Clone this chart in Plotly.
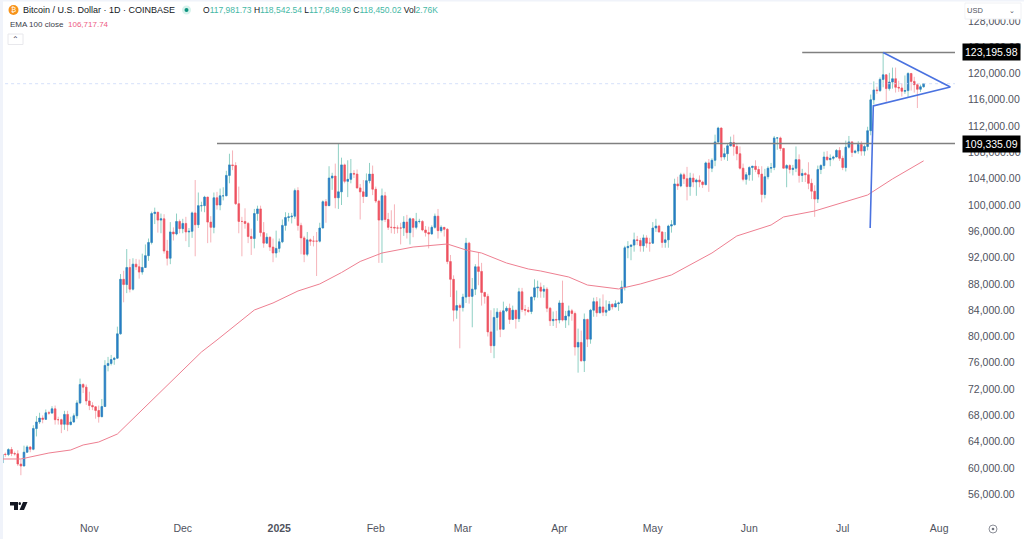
import pandas as pd
import plotly.graph_objects as go

W, H = 1024, 539
ML, MR, MT, MB = 0, 69, 0, 24
FONT = "Liberation Sans"

dates = pd.date_range("2024-10-04", "2025-07-27", freq="D")

opens = [60750, 62100, 62050, 62800, 62200, 62150, 60600, 60300, 62400, 63200, 62850, 66000, 67000, 67600, 67400, 68400, 68350, 69000, 67350, 67350, 66650, 68150, 66600, 67000, 67950, 69900, 72700, 72300,
         70200, 69500, 69300, 68750, 67800, 69350, 75600, 75900, 76500, 76700, 80400, 88700, 87900, 90500, 87200, 91000, 90600, 89800, 90500, 92300, 94300, 98700, 98900, 97700, 97900, 93000, 91900, 95900, 95600, 97500,
         96400, 97200, 95900, 96000, 98800, 97000, 99900, 99900, 101200, 97400, 96600, 101100, 100000, 101400, 101400, 104500, 106100, 106000, 100200, 97500, 97500, 97200, 95200, 94900, 98700, 99400, 95800, 94200, 95100, 93600, 92700,
         93400, 94400, 96900, 98100, 98200, 98300, 102200, 96900, 95000, 92500, 94700, 94500, 94500, 94500, 96500, 100500, 99900, 104100, 104400, 101100, 102000, 106100, 103600, 103900, 104800, 104700, 102600, 102000, 101300, 103700, 104700,
         102400, 100600, 97700, 101400, 97800, 96600, 96600, 96500, 96500, 96500, 97400, 95800, 97900, 96600, 97500, 97500, 96200, 95800, 95600, 96600, 98300, 96100, 96600, 96300, 91400, 88700, 84000, 84700,
         84400, 86000, 94200, 86100, 87200, 90600, 89900, 86700, 86100, 80700, 78600, 82900, 83700, 81100, 83900, 84300, 82600, 84000, 82700, 86800, 84100, 84000, 83800, 86000, 87400, 87500, 86900, 87200, 84300, 82400, 82600,
         82500, 85100, 82500, 83100, 83900, 83500, 78400, 79100, 76300, 82600, 79600, 84000, 85300, 83600, 84500, 83700, 84000, 84900, 84500, 85000, 85100, 87500, 93500, 93700, 93900, 94700, 94600, 93800, 95000, 94200,
         94200, 96500, 96800, 95900, 94300, 94700, 96800, 97000, 103200, 102900, 104600, 104000, 102800, 104100, 103500, 103800, 103500, 103100, 106400, 105600, 106800, 109600, 111700, 107300, 107800, 109000, 109500, 108900, 107800, 105600, 103900,
         104600, 105700, 105900, 105400, 104700, 101600, 104300, 105600, 105700, 110200, 110200, 108600, 105600, 106000, 105400, 105600, 106900, 104500, 104800, 104600, 103300, 102100, 100900, 105400, 106000, 107300, 106900, 107100, 107300, 108300,
         107100, 105700, 108800, 109600, 108000, 108200, 109200, 108200, 108900, 111300, 116000, 117500, 117400, 119100, 119800, 117700, 118700, 119200, 117900, 117800, 117300, 117400, 120000, 118800, 118300, 117600, 117981.73]

highs = [62400, 62350, 63000, 63200, 62500, 62700, 61300, 63400, 63450, 63300, 66500, 67900, 68400, 68000, 68900, 68700, 69400, 69500, 67800, 67500, 68700, 68700, 67800, 68300, 70300, 73600, 72900, 72700,
         71600, 70000, 69400, 69500, 70500, 76400, 76900, 77200, 76900, 81500, 89500, 90000, 93300, 91800, 91900, 91800, 91700, 92600, 94000, 94900, 99000, 99600, 98800, 98700, 98600, 94700, 97400, 96600, 98700, 97800,
         97900, 98200, 96500, 99000, 103800, 101900, 100500, 101400, 101200, 98300, 101900, 102000, 102500, 102700, 105200, 107800, 108300, 106500, 102800, 98200, 99500, 97400, 96400, 99400, 99900, 99900, 97400, 95700, 95200, 94900, 96100,
         94900, 97800, 98900, 98800, 98800, 102500, 102700, 97300, 95300, 95900, 94900, 95300, 95900, 97300, 100700, 100900, 105900, 104900, 106300, 109300, 107200, 106300, 106800, 107000, 105300, 105400, 103200, 103800, 104800, 106400, 106000,
         102800, 100800, 102500, 102000, 98800, 99200, 100100, 96900, 97300, 98300, 98500, 98100, 97200, 98800, 97900, 97700, 96800, 96700, 96900, 98700, 99400, 96900, 96500, 96500, 92400, 89300, 87000, 85000,
         86500, 95000, 94400, 88900, 91000, 92800, 91200, 86800, 86500, 84000, 84300, 84300, 84000, 85300, 84600, 85000, 84700, 84000, 87400, 87400, 84800, 84500, 86000, 88700, 88500, 88200, 87800, 87500, 84500, 83800, 83900,
         85500, 88500, 83900, 84700, 84200, 83800, 81200, 80900, 83500, 82700, 84200, 85900, 86000, 85800, 86400, 85500, 85400, 85000, 85500, 85300, 88500, 93800, 94500, 94000, 95800, 95300, 95000, 95500, 95400, 95000,
         97400, 97900, 97000, 96000, 95900, 97000, 97700, 104000, 104300, 104900, 104900, 105800, 104900, 104800, 104000, 104500, 103700, 106600, 107000, 107100, 110700, 111900, 111800, 108700, 109300, 110400, 110700, 109300, 108900, 106300, 105000,
         105900, 105900, 106800, 105900, 105900, 105500, 105900, 106400, 110500, 110300, 110400, 108700, 106200, 106200, 106100, 108900, 107700, 105500, 105000, 106500, 104000, 103000, 106000, 106200, 108100, 108200, 107700, 107500, 108500, 108800,
         107500, 109800, 110500, 109700, 108400, 109700, 109700, 109200, 111900, 116800, 118800, 118000, 119400, 123195.98, 119900, 120100, 120900, 120900, 118900, 118500, 119700, 120200, 120100, 119500, 118500, 118300, 118542.54]

lows = [60450, 61700, 61800, 61800, 61900, 60300, 58900, 60300, 62500, 62400, 62700, 64800, 66700, 66800, 67300, 68100, 68300, 66600, 66600, 65300, 65800, 65600, 66500, 66900, 67500, 69700, 71400, 69600,
        68800, 68800, 67500, 66900, 67800, 69300, 74700, 75600, 75700, 76700, 80300, 85200, 86600, 86700, 87000, 90100, 88800, 89400, 90800, 91500, 94000, 97100, 95800, 95700, 92600, 90800, 91000, 94600, 95400, 95700,
        95700, 94500, 93600, 95000, 92200, 96500, 99000, 98900, 94200, 94300, 95700, 99300, 99200, 100700, 101400, 103300, 105300, 100000, 95700, 92200, 96400, 94200, 92400, 93400, 97600, 95200, 93500, 94200, 93000, 91300, 92000,
        92800, 94200, 96100, 97500, 97200, 97900, 96100, 92500, 91300, 92200, 93800, 93700, 89200, 94300, 96500, 97300, 100300, 102300, 99500, 99400, 100000, 103300, 101200, 103300, 104100, 102500, 97800, 100300, 101300, 103300, 101500,
        100300, 91200, 91200, 97400, 96200, 95700, 95600, 95700, 94000, 95300, 94900, 94000, 95100, 96300, 97200, 96000, 95200, 93400, 95500, 96400, 94900, 95800, 95200, 91000, 86000, 82300, 82700, 78200,
        83800, 85100, 85000, 81400, 86300, 87800, 84700, 85000, 80000, 77500, 76700, 80900, 79900, 81100, 83700, 81900, 82500, 81200, 82200, 83700, 83200, 83600, 83400, 85500, 85900, 85900, 85900, 83700, 81600, 81600, 81300,
        82000, 82300, 81300, 81700, 82400, 77100, 74500, 76200, 74600, 78400, 78900, 83000, 83000, 83600, 83100, 83100, 84000, 84100, 84500, 83900, 85000, 87000, 91900, 91600, 92900, 93900, 92900, 92900, 93500, 92900,
        94100, 95900, 95800, 93500, 93500, 93500, 95800, 96900, 102300, 102700, 103200, 100700, 101400, 102700, 101400, 102700, 102600, 103000, 102000, 105000, 105900, 109300, 106700, 106900, 106700, 108900, 107500, 106800, 105400, 103600, 103100,
        103700, 103700, 105000, 104200, 100400, 101000, 103900, 104900, 105300, 108400, 108200, 105600, 102700, 104800, 104500, 105000, 103400, 103500, 103500, 102400, 100900, 98200, 100300, 104700, 105500, 106700, 105900, 106800, 107300, 106700,
        105300, 105100, 108600, 107300, 107800, 107800, 107500, 107500, 108300, 110600, 115300, 116900, 117200, 117900, 115700, 117400, 117700, 117100, 117200, 116500, 116900, 116400, 117400, 117100, 114750, 117200, 117849.99]

closes = [62100, 62050, 62800, 62200, 62150, 60600, 60300, 62400, 63200, 62850, 66000, 67000, 67600, 67400, 68400, 68350, 69000, 67350, 67350, 66650, 68150, 66600, 67000, 67950, 69900, 72700, 72300, 70200,
          69500, 69300, 68750, 67800, 69350, 75600, 75900, 76500, 76700, 80400, 88700, 87900, 90500, 87200, 91000, 90600, 89800, 90500, 92300, 94300, 98700, 98900, 97700, 97900, 93000, 91900, 95900, 95600, 97500, 96400,
          97200, 95900, 96000, 98800, 97000, 99900, 99900, 101200, 97400, 96600, 101100, 100000, 101400, 101400, 104500, 106100, 106000, 100200, 97500, 97500, 97200, 95200, 94900, 98700, 99400, 95800, 94200, 95100, 93600, 92700, 93400,
          94400, 96900, 98100, 98200, 98300, 102200, 96900, 95000, 92500, 94700, 94500, 94500, 94500, 96500, 100500, 99900, 104100, 104400, 101100, 102000, 106100, 103600, 103900, 104800, 104700, 102600, 102000, 101300, 103700, 104700, 102400,
          100600, 97700, 101400, 97800, 96600, 96600, 96500, 96500, 96500, 97400, 95800, 97900, 96600, 97500, 97500, 96200, 95800, 95600, 96600, 98300, 96100, 96600, 96300, 91400, 88700, 84000, 84700, 84400,
          86000, 94200, 86100, 87200, 90600, 89900, 86700, 86100, 80700, 78600, 82900, 83700, 81100, 83900, 84300, 82600, 84000, 82700, 86800, 84100, 84000, 83800, 86000, 87400, 87500, 86900, 87200, 84300, 82400, 82600, 82500,
          85100, 82500, 83100, 83900, 83500, 78400, 79100, 76300, 82600, 79600, 84000, 85300, 83600, 84500, 83700, 84000, 84900, 84500, 85000, 85100, 87500, 93500, 93700, 93900, 94700, 94600, 93800, 95000, 94200, 94200,
          96500, 96800, 95900, 94300, 94700, 96800, 97000, 103200, 102900, 104600, 104000, 102800, 104100, 103500, 103800, 103500, 103100, 106400, 105600, 106800, 109600, 111700, 107300, 107800, 109000, 109500, 108900, 107800, 105600, 103900, 104600,
          105700, 105900, 105400, 104700, 101600, 104300, 105600, 105700, 110200, 110200, 108600, 105600, 106000, 105400, 105600, 106900, 104500, 104800, 104600, 103300, 102100, 100900, 105400, 106000, 107300, 106900, 107100, 107300, 108300, 107100,
          105700, 108800, 109600, 108000, 108200, 109200, 108200, 108900, 111300, 116000, 117500, 117400, 119100, 119800, 117700, 118700, 119200, 117900, 117800, 117300, 117400, 120000, 118800, 118300, 117600, 117981.73, 118450.02]

ema_dates = ["2024-10-04", "2024-10-10", "2024-10-19", "2024-10-26", "2024-10-30", "2024-11-04", "2024-11-10", "2024-11-18", "2024-11-25", "2024-11-30",
             "2024-12-07", "2024-12-12", "2024-12-24", "2024-12-30", "2025-01-07", "2025-01-14", "2025-01-21", "2025-01-27", "2025-02-03", "2025-02-13",
             "2025-02-24", "2025-03-02", "2025-03-07", "2025-03-15", "2025-03-22", "2025-03-26", "2025-04-04", "2025-04-10", "2025-04-20", "2025-04-27",
             "2025-05-07", "2025-05-20", "2025-05-28", "2025-06-08", "2025-06-12", "2025-06-22", "2025-07-09", "2025-07-17", "2025-07-27"]
ema_values = [61370, 61370, 62280, 62740, 63500, 63950, 65170, 68820, 72170, 74450,
              77640, 79470, 84030, 85100, 86920, 87990, 89730, 91410, 92700, 93610,
              94070, 93160, 92700, 91180, 90270, 89960, 89050, 87830, 87230, 87990,
              89360, 92700, 95290, 96960, 98180, 99090, 101520, 103960, 106717.74]

resistance = 109335.09
swing_high = 123195.98
last_close = 118450.02
pennant_dates = ["2025-07-09 20:00", "2025-07-10 20:00", "2025-08-04 14:00", "2025-07-14", "2025-08-04 14:00"]
pennant_prices = [96500, 115060, 117950, 123195.98, 117950]

y_ticks = list(range(56000, 132000, 4000))
month_ticks = ["2024-11-01", "2024-12-01", "2025-01-01", "2025-02-01", "2025-03-01", "2025-04-01", "2025-05-01", "2025-06-01", "2025-07-01", "2025-08-01"]
month_labels = ["Nov", "Dec", "<b>2025</b>", "Feb", "Mar", "Apr", "May", "Jun", "Jul", "Aug"]


# decoration placed by pixel, converted to paper coordinates
def px(x):
    return (x - ML) / (W - ML - MR)


def py(y):
    return 1 - (y - MT) / (H - MT - MB)


fig = go.Figure()

# wicks first, bodies on top, so the two can have different colours
fig.add_trace(go.Candlestick(
    x=dates, open=opens, high=highs, low=lows, close=closes,
    increasing=dict(line=dict(color="#8fd0c4", width=1), fillcolor="#8fd0c4"),
    decreasing=dict(line=dict(color="#f6b3b9", width=1), fillcolor="#f6b3b9"),
    whiskerwidth=0, hoverinfo="skip", showlegend=False,
))
fig.add_trace(go.Candlestick(
    x=dates, open=opens, close=closes,
    high=[max(o, c) for o, c in zip(opens, closes)],
    low=[min(o, c) for o, c in zip(opens, closes)],
    increasing=dict(line=dict(color="#2a7cc7", width=0.5), fillcolor="#2a7cc7"),
    decreasing=dict(line=dict(color="#ee5260", width=0.5), fillcolor="#ee5260"),
    hoverinfo="skip", showlegend=False,
))
fig.add_trace(go.Scatter(x=ema_dates, y=ema_values, mode="lines", line=dict(color="#ee7f91", width=1),
                         hoverinfo="skip", showlegend=False))
fig.add_trace(go.Scatter(x=["2024-10-03", "2025-08-08"], y=[last_close, last_close], mode="lines", cliponaxis=False,
                         line=dict(color="#c9d8f7", width=0.8, dash="dot"), hoverinfo="skip", showlegend=False))
fig.add_trace(go.Scatter(x=["2024-12-12", "2025-08-08"], y=[resistance, resistance], mode="lines", cliponaxis=False,
                         line=dict(color="#808080", width=1.5), hoverinfo="skip", showlegend=False))
fig.add_trace(go.Scatter(x=["2025-06-18", "2025-08-08"], y=[swing_high, swing_high], mode="lines", cliponaxis=False,
                         line=dict(color="#808080", width=1.5), hoverinfo="skip", showlegend=False))
fig.add_trace(go.Scatter(x=pennant_dates, y=pennant_prices, mode="lines", line=dict(color="#4a72e0", width=1.6),
                         hoverinfo="skip", showlegend=False))

annotations = []


def text(x, y, s, size=10.5, color="#131722", anchor="left", **kw):
    annotations.append(dict(xref="paper", yref="paper", x=px(x), y=py(y), text=s, showarrow=False, xanchor=anchor,
                            yanchor="middle", font=dict(family=FONT, size=size, color=color), **kw))


text(21, 10, "Bitcoin / U.S. Dollar · 1D · COINBASE", size=9)
up = "#45b8a5"
header = " ".join(f'{k}<span style="color:{up}">{v}</span>' for k, v in
                  [("O", "117,981.73"), ("H", "118,542.54"), ("L", "117,849.99"), ("C", "118,450.02"), ("Vol", "2.76K")])
text(201, 10, header, size=8.5)
text(8, 24.5, "EMA 100 close", size=8, color="#3a3e4a")
text(66, 24.5, "106,717.74", size=8, color="#ee5c83")
text(15.5, 40, "⌃", size=8, color="#3a3e4a", anchor="center")
text(13, 10, "₿", size=7, color="#ffffff", anchor="center")
text(985, 11, "USD", size=7.5, color="#50535e", anchor="right", bgcolor="#ffffff")
text(1017, 11, "⌄", size=7, color="#50535e", anchor="right")
for label, y in [("123,195.98", 52), ("109,335.09", 144)]:
    text(991, y, label, size=10.5, color="#ffffff", anchor="center", bgcolor="#000000", borderpad=2)

shapes = [
    dict(type="rect", xref="paper", yref="paper", x0=px(0), x1=px(3), y0=py(0), y1=py(539), fillcolor="#f0f3fa", line_width=0, layer="above"),
    dict(type="rect", xref="paper", yref="paper", x0=px(0), x1=px(1024), y0=py(0), y1=py(1.5), fillcolor="#f0f3fa", line_width=0),
    dict(type="circle", xref="paper", yref="paper", x0=px(8.5), x1=px(18.5), y0=py(5), y1=py(15), fillcolor="#f7931a", line_width=0),
    dict(type="circle", xref="paper", yref="paper", x0=px(182), x1=px(191), y0=py(5.5), y1=py(14.5), fillcolor="#d7f2ec", line_width=0),
    dict(type="circle", xref="paper", yref="paper", x0=px(184.5), x1=px(188.5), y0=py(8), y1=py(12), fillcolor="#0d9480", line_width=0),
    dict(type="rect", xref="paper", yref="paper", x0=px(8), x1=px(23), y0=py(34), y1=py(44.5), fillcolor="#ffffff", line=dict(color="#e8e8ec", width=1)),
    dict(type="rect", xref="paper", yref="paper", x0=px(965), x1=px(1021), y0=py(3), y1=py(19), fillcolor="#ffffff", line=dict(color="#f0f1f4", width=1), layer="above"),
    # TradingView mark
    dict(type="path", xref="paper", yref="paper", fillcolor="#131722", line_width=0,
         path=f"M {px(10)} {py(502)} L {px(18)} {py(502)} L {px(18)} {py(510)} L {px(14)} {py(510)} L {px(14)} {py(505.5)} L {px(10)} {py(505.5)} Z"),
    dict(type="circle", xref="paper", yref="paper", x0=px(18.5), x1=px(21), y0=py(502), y1=py(505), fillcolor="#131722", line_width=0),
    dict(type="path", xref="paper", yref="paper", fillcolor="#131722", line_width=0,
         path=f"M {px(23)} {py(502)} L {px(27.5)} {py(502)} L {px(24)} {py(510)} L {px(19.5)} {py(510)} Z"),
    dict(type="circle", xref="paper", yref="paper", x0=px(989), x1=px(997), y0=py(525), y1=py(533), fillcolor="#ffffff", line=dict(color="#70747f", width=0.8)),
    dict(type="circle", xref="paper", yref="paper", x0=px(991.7), x1=px(994.3), y0=py(527.7), y1=py(530.3), fillcolor="#70747f", line_width=0),
]

fig.update_layout(
    width=W, height=H,
    margin=dict(l=ML, r=MR, t=MT, b=MB),
    paper_bgcolor="#ffffff",
    plot_bgcolor="#ffffff",
    font=dict(family=FONT, size=10.5, color="#50535e"),
    showlegend=False,
    hovermode=False,
    annotations=annotations,
    shapes=shapes,
    xaxis=dict(
        type="date",
        range=["2024-10-03 07:00", "2025-08-06 02:00"],
        rangeslider=dict(visible=False),
        tickmode="array", tickvals=month_ticks, ticktext=month_labels,
        showgrid=False, zeroline=False, showline=False, ticks="",
        ticklabelstandoff=5,
        tickfont=dict(size=10.5, color="#50535e"),
    ),
    yaxis=dict(
        side="right",
        range=[52852, 131179],
        tickmode="array", tickvals=y_ticks, tickformat=",.2f",
        showgrid=False, zeroline=False, showline=False, ticks="",
        ticklabelstandoff=12,
        tickfont=dict(size=10.5, color="#50535e"),
    ),
)

fig.write_html("out.html", config=dict(displayModeBar=False),
               post_script="document.body.style.margin='0';document.body.style.overflow='hidden';")
